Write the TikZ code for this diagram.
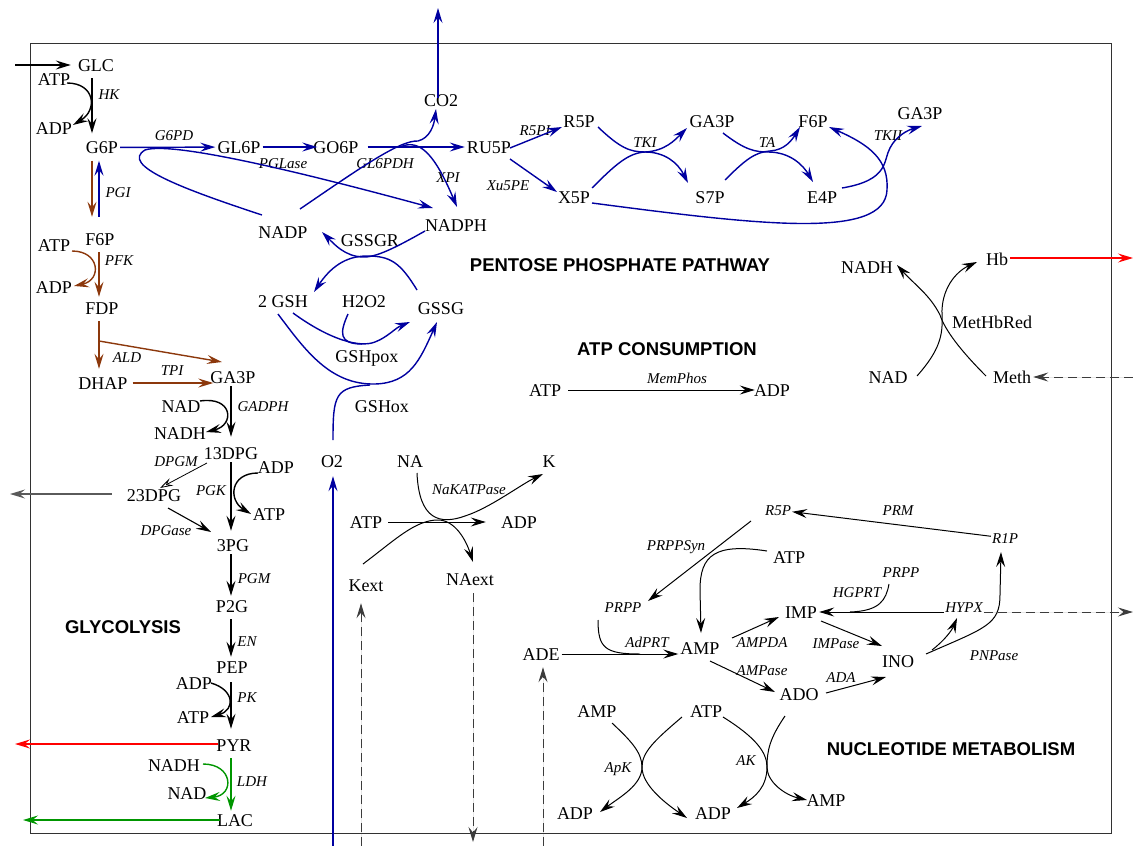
\documentclass[tikz,border=0pt]{standalone}
\usepackage{fontspec}
\setmainfont{Liberation Serif}
\setsansfont{Liberation Sans}
\usetikzlibrary{arrows.meta}
\definecolor{ppblue}{RGB}{0,0,160}
\definecolor{glbrown}{RGB}{140,56,12}
\definecolor{ldgreen}{RGB}{0,150,0}
\definecolor{exred}{RGB}{255,0,0}
\definecolor{boxgray}{RGB}{50,50,50}
\definecolor{exgray}{RGB}{90,90,90}
\definecolor{dashgray}{RGB}{60,60,60}
\begin{document}
\begin{tikzpicture}[x=1pt,y=-1pt,
  met/.style={font=\fontsize{18}{20}\selectfont, inner xsep=2pt, inner ysep=3pt, text height=12pt, text depth=0pt},
  enz/.style={font=\itshape\fontsize{15}{17}\selectfont, inner sep=1pt, text height=10pt, text depth=0pt},
  hdr/.style={font=\sffamily\bfseries\fontsize{18.5}{20}\selectfont, inner sep=0pt, text height=13pt, text depth=0pt},
  rxhead/.style={-{Stealth[length=15pt,width=9pt,inset=5.5pt]}},
  rxmain/.style={rxhead, line width=1.7pt},
  rxflow/.style={rxhead, line width=1.4pt},
  rxfine/.style={rxhead, line width=1pt},
  rxopen/.style={-{Stealth[open,length=13pt,width=8pt,inset=5pt]}, line width=0.8pt},
  rxdash/.style={rxhead, line width=1pt, dash pattern=on 9pt off 5pt, draw=dashgray, fill=dashgray}]
\useasboundingbox (0,0) rectangle (1133,846);
\draw[boxgray, line width=1pt] (30,43) rectangle (1111,833);

% ---------------- glycolysis ----------------
\node[met] (GLC) at (96,65) {GLC};
\node[met] (ATPhk) at (54,79) {ATP};
\node[met] (ADPhk) at (54,128) {ADP};
\node[enz] (HK) at (109,94) {HK};
\node[met] (G6P) at (102,147.5) {G6P};
\node[enz] (PGI) at (118,192) {PGI};
\node[met] (F6P) at (100,239) {F6P};
\node[met] (ATPpfk) at (54,245) {ATP};
\node[met] (ADPpfk) at (54,287) {ADP};
\node[enz] (PFK) at (119,260) {PFK};
\node[met] (FDP) at (102,308) {FDP};
\node[enz] (ALD) at (127,357) {ALD};
\node[met] (DHAP) at (103,383) {DHAP};
\node[enz] (TPI) at (172,370) {TPI};
\node[met] (GA3P) at (233,377) {GA3P};
\node[met] (NADg) at (181,406) {NAD};
\node[met] (NADHg) at (180,433) {NADH};
\node[enz] (GADPH) at (263,406) {GADPH};
\node[met] (DPGa) at (231,453) {13DPG};
\node[met] (ADPpgk) at (276,467) {ADP};
\node[met] (ATPpgk) at (269,514) {ATP};
\node[enz] (PGK) at (211,490) {PGK};
\node[enz] (DPGM) at (176,461) {DPGM};
\node[met] (DPGb) at (154,495) {23DPG};
\node[enz] (DPGase) at (166,530) {DPGase};
\node[met] (PGc) at (233,545) {3PG};
\node[enz] (PGM) at (254,578) {PGM};
\node[met] (P2G) at (232,606) {P2G};
\node[enz] (EN) at (247,641) {EN};
\node[met] (PEP) at (232,667) {PEP};
\node[met] (ADPpk) at (194,683) {ADP};
\node[met] (ATPpk) at (193,717) {ATP};
\node[enz] (PK) at (247,697) {PK};
\node[met] (PYR) at (234,745) {PYR};
\node[met] (NADHl) at (174,765) {NADH};
\node[met] (NADl) at (187,793) {NAD};
\node[enz] (LDH) at (252,781) {LDH};
\node[met] (LAC) at (235,820) {LAC};
\node[hdr] (glyT) at (123,627) {GLYCOLYSIS};

\coordinate (colA) at (92,0);
\coordinate (colB) at (99,0);
\coordinate (colC) at (231,0);
\coordinate (glcin) at (15,65);
\draw[rxflow] (glcin) -- ([xshift=-5pt]GLC.west);
\draw[rxmain, shorten <=4pt, shorten >=5pt] (GLC.south -| colA) -- (G6P.north -| colA);
\draw[rxflow] (67,83) .. controls (95,83) and (98,110) .. (73,125);
\draw[rxflow, glbrown, shorten <=4pt, shorten >=13pt] (G6P.south -| colA) -- (F6P.north -| colA);
\draw[rxflow, ppblue, shorten <=13pt, shorten >=4pt] (F6P.north -| colB) -- (G6P.south -| colB);
\draw[rxflow, glbrown, shorten <=4pt, shorten >=2pt] (F6P.south -| colB) -- (FDP.north -| colB);
\draw[rxflow, glbrown] (72,251) .. controls (100,251) and (102,280) .. (74,286);
\draw[rxflow, glbrown, shorten <=4pt, shorten >=5pt] (FDP.south -| colB) -- (DHAP.north -| colB);
\coordinate (aldfork) at (99,341);
\draw[rxflow, glbrown] (aldfork) -- (222,362);
\draw[rxflow, glbrown, shorten <=3pt, shorten >=-5pt] (DHAP.east) -- (GA3P.west |- DHAP.east);
\draw[rxmain, shorten >=7pt] (GA3P.south -| colC) -- (DPGa.north -| colC);
\draw[rxflow] (200,401) .. controls (233,396) and (235,425) .. (206,432);
\draw[rxmain, shorten >=5pt] (DPGa.south -| colC) -- (PGc.north -| colC);
\draw[rxflow] (258,473) .. controls (230,473) and (228,500) .. (251,514);
\draw[rxopen] (207,463) -- (160,488);
\coordinate (dpgout) at (10,494);
\draw[rxflow, exgray, shorten <=13pt] (DPGb.west |- dpgout) -- (dpgout);
\draw[rxflow, line width=1.1pt] (168,508) -- (211,532);
\draw[rxmain, shorten >=1pt] (PGc.south -| colC) -- (P2G.north -| colC);
\draw[rxmain, shorten <=4pt, shorten >=1pt] (P2G.south -| colC) -- (PEP.north -| colC);
\draw[rxmain, shorten <=6pt, shorten >=7pt] (PEP.south -| colC) -- (PYR.north -| colC);
\draw[rxflow] (211,683) .. controls (235,690) and (235,710) .. (211,717);
\coordinate (pyrout) at (15,744);
\draw[rxflow, exred, shorten <=-4pt] (PYR.west |- pyrout) -- (pyrout);
\draw[rxmain, ldgreen, shorten <=4pt] (PYR.south -| colC) -- (LAC.north -| colC);
\draw[rxflow, ldgreen] (203,764) .. controls (233,764) and (235,795) .. (205,798);
\coordinate (lacout) at (23,820);
\draw[rxflow, ldgreen, shorten <=-5pt] (LAC.west) -- (lacout);

% ---------------- pentose phosphate pathway ----------------
\node[met] (GL6P) at (239,147) {GL6P};
\node[enz] (G6PD) at (174,135) {G6PD};
\node[met] (GO6P) at (336,147) {GO6P};
\node[enz] (PGLase) at (283,163) {PGLase};
\node[met] (RU5P) at (489,147) {RU5P};
\node[enz] (GL6PDH) at (385,163) {GL6PDH};
\node[enz] (XPI) at (448,177) {XPI};
\node[met] (CO2) at (441,100) {CO2};
\node[met] (NADP) at (283,232) {NADP};
\node[met] (NADPH) at (456,225) {NADPH};
\node[met] (GSSGR) at (370,240) {GSSGR};
\node[met] (GSH) at (283,301) {2 GSH};
\node[met] (H2O2) at (364,301) {H2O2};
\node[met] (GSSG) at (441,308) {GSSG};
\node[met] (GSHpox) at (367,356) {GSHpox};
\node[met] (GSHox) at (382,406) {GSHox};
\node[met] (O2) at (332,461) {O2};
\node[enz] (R5PI) at (535,130) {R5PI};
\node[met] (R5P) at (579,121) {R5P};
\node[enz] (Xu5PE) at (508,185) {Xu5PE};
\node[met] (X5P) at (574,197) {X5P};
\node[met] (GA3Pp) at (712,121) {GA3P};
\node[met] (S7P) at (710,197) {S7P};
\node[enz] (TKI) at (645,142) {TKI};
\node[met] (F6Pp) at (813,121) {F6P};
\node[met] (E4P) at (822,197) {E4P};
\node[enz] (TA) at (767,142) {TA};
\node[met] (GA3Pq) at (920,113) {GA3P};
\node[enz] (TKII) at (888,135) {TKII};
\node[hdr] (ppT) at (620,265) {PENTOSE PHOSPHATE PATHWAY};

\draw[rxflow, ppblue] (G6P) -- (GL6P);
\draw[rxflow, ppblue, shorten >=-6pt] (GL6P) -- (GO6P);
\draw[rxflow, ppblue, shorten <=7pt] (GO6P) -- (RU5P);
\coordinate (co2out) at (438,8);
\draw[rxflow, ppblue, shorten <=-7pt] (CO2.north -| co2out) -- (co2out);
\draw[rxflow, ppblue] (262,215) .. controls (180,188) and (120,165) .. (145,150) .. controls (175,140) and (330,180) .. (433,208);
\draw[rxflow, ppblue] (300,209) .. controls (360,168) and (400,140) .. (418,141) .. controls (430,138) and (434,125) .. (436,109);
\draw[rxflow, ppblue] (400,147) .. controls (420,138) and (435,155) .. (457,207);
\draw[rxflow, ppblue] (425,231) .. controls (395,248) and (375,258) .. (362,257) .. controls (345,256) and (335,245) .. (322,232);
\draw[rxflow, ppblue] (417,290) .. controls (400,262) and (390,256) .. (367,256) .. controls (345,256) and (330,268) .. (314,292);
\draw[rxflow, ppblue] (293,313) .. controls (330,340) and (360,348) .. (375,342) .. controls (388,337) and (395,328) .. (410,322);
\draw[ppblue, line width=1.4pt] (348,314) .. controls (340,332) and (338,344) .. (362,344);
\draw[rxflow, ppblue] (278,314) .. controls (305,350) and (330,385) .. (375,384) .. controls (410,383) and (420,360) .. (437,322);
\draw[ppblue, line width=1.4pt] (333,440) .. controls (333,395) and (335,387) .. (370,385);
\coordinate (o2in) at (333,846);
\draw[rxflow, ppblue, shorten >=6pt] (o2in) -- (O2.south -| o2in);
\draw[rxflow, ppblue] (510,148) -- (562,127);
\draw[rxflow, ppblue] (510,159) -- (557,192);
\draw[rxflow, ppblue] (598,127) .. controls (620,148) and (630,152) .. (645,152) .. controls (665,152) and (678,163) .. (688,183);
\draw[rxflow, ppblue] (592,188) .. controls (615,165) and (628,153) .. (645,152) .. controls (665,151) and (675,140) .. (687,128);
\draw[rxflow, ppblue] (723,133) .. controls (745,150) and (755,152) .. (768,152) .. controls (790,152) and (803,165) .. (813,182);
\draw[rxflow, ppblue] (725,180) .. controls (745,160) and (755,152) .. (770,151) .. controls (785,150) and (792,140) .. (800,127);
\draw[rxflow, ppblue] (842,188) .. controls (890,180) and (883,160) .. (890,148) .. controls (896,136) and (908,130) .. (922,126);
\draw[rxflow, ppblue] (592,203) .. controls (760,225) and (885,240) .. (887,190) .. controls (889,160) and (870,145) .. (829,127);

% ---------------- ATP consumption ----------------
\node[hdr] (atpT) at (667,349) {ATP CONSUMPTION};
\node[met] (ATPm) at (545,390) {ATP};
\node[met] (ADPm) at (772,390) {ADP};
\node[enz] (MemPhos) at (677,378) {MemPhos};
\draw[rxfine, shorten <=5pt, shorten >=-3pt] (ATPm) -- (ADPm);

% ---------------- methaemoglobin reduction ----------------
\node[met] (Hb) at (997,259) {Hb};
\node[met] (NADHm) at (867,267) {NADH};
\node[met] (NADm) at (888,377) {NAD};
\node[met] (Meth) at (1012,377) {Meth};
\node[met] (MetHbRed) at (992,322) {MetHbRed};
\draw[rxfine] (917,376) .. controls (940,350) and (943,335) .. (942,315) .. controls (941,290) and (955,272) .. (977,262);
\draw[rxfine] (986,376) .. controls (960,350) and (945,330) .. (940,315) .. controls (930,295) and (915,285) .. (897,265);
\coordinate (hbout) at (1133,258);
\draw[rxflow, exred] (Hb.east |- hbout) -- (hbout);
\coordinate (methin) at (1133,377);
\draw[rxdash] (methin) -- (Meth.east);

% ---------------- Na/K pump ----------------
\node[met] (NA) at (410,461) {NA};
\node[met] (K) at (549,461) {K};
\node[met] (ATPn) at (366,522) {ATP};
\node[met] (ADPn) at (519,522) {ADP};
\node[enz] (NaK) at (469,489) {NaKATPase};
\node[met] (Kext) at (366,585) {Kext};
\node[met] (NAext) at (470,579) {NAext};
\draw[rxfine, shorten <=4pt, shorten >=13pt] (ATPn) -- (ADPn);
\draw[rxfine] (417,473) .. controls (419,520) and (440,525) .. (465,516) .. controls (490,508) and (520,485) .. (543,474);
\draw[rxfine] (363,564) .. controls (395,540) and (415,520) .. (438,520) .. controls (455,520) and (466,540) .. (473,562);
\coordinate (kextin) at (361,846);
\draw[rxdash, shorten >=9pt] (kextin) -- (Kext.south -| kextin);
\coordinate (naextout) at (473,842);
\draw[rxdash, shorten <=5pt] (NAext.south -| naextout) -- (naextout);
\coordinate (adein) at (543,846);

% ---------------- nucleotide metabolism ----------------
\node[enz] (R5Pn) at (778,510) {R5P};
\node[enz] (PRM) at (898,510) {PRM};
\node[enz] (R1P) at (1005,538) {R1P};
\node[enz] (PRPPSyn) at (676,545) {PRPPSyn};
\node[met] (ATPu) at (789,557) {ATP};
\node[enz] (PRPPa) at (623,607) {PRPP};
\node[enz] (PRPPb) at (901,572) {PRPP};
\node[enz] (HGPRT) at (857,592) {HGPRT};
\node[met] (IMP) at (801,612) {IMP};
\node[enz] (HYPX) at (964,607) {HYPX};
\node[met] (ADE) at (541,654) {ADE};
\node[enz] (AdPRT) at (647,642) {AdPRT};
\node[met] (AMP) at (700,648) {AMP};
\node[enz] (AMPDA) at (762,642) {AMPDA};
\node[enz] (IMPase) at (836,643) {IMPase};
\node[met] (INO) at (898,661) {INO};
\node[enz] (PNPase) at (994,655) {PNPase};
\node[enz] (AMPase) at (762,670) {AMPase};
\node[enz] (ADA) at (841,677) {ADA};
\node[met] (ADO) at (799,694) {ADO};
\node[met] (AMPk) at (597,711) {AMP};
\node[met] (ATPk) at (706,711) {ATP};
\node[enz] (ApK) at (618,767) {ApK};
\node[enz] (AK) at (746,760) {AK};
\node[met] (ADPk1) at (575,813) {ADP};
\node[met] (ADPk2) at (713,813) {ADP};
\node[met] (AMPk2) at (826,800) {AMP};
\node[hdr] (nucT) at (951,749) {NUCLEOTIDE METABOLISM};

\draw[rxdash, shorten >=4pt] (adein) -- (ADE.south -| adein);
\draw[rxfine] (R1P) -- (R5Pn);
\draw[rxfine] (751,521) -- (648,601);
\draw[rxfine] (767,551) .. controls (715,543) and (700,555) .. (700,590) -- (701,633);
\draw[rxfine] (ADE.east) -- (AMP.west |- ADE.east);
\draw[line width=1pt] (598,620) .. controls (598,648) and (605,654) .. (640,654);
\draw[rxfine] (732,638) -- (779,617);
\draw[rxfine] (HYPX.west |- IMP) -- (IMP);
\draw[line width=1pt] (889,584) .. controls (886,600) and (880,611) .. (850,612);
\draw[rxfine] (821,621) -- (882,646);
\draw[rxfine] (710,661) -- (775,692);
\draw[rxfine] (826,693) -- (886,677);
\draw[rxfine] (926,654) .. controls (985,628) and (1000,625) .. (1000,595) -- (1001,552);
\draw[rxfine] (932,650) .. controls (945,640) and (952,630) .. (957,618);
\coordinate (hypxout) at (1133,612);
\draw[rxdash] (HYPX.east |- hypxout) -- (hypxout);
\draw[rxfine] (612,723) .. controls (630,740) and (642,752) .. (642,767) .. controls (642,785) and (665,803) .. (687,818);
\draw[rxfine] (682,717) .. controls (655,740) and (642,752) .. (642,767) .. controls (642,785) and (620,797) .. (600,812);
\draw[rxfine] (723,717) .. controls (755,737) and (767,752) .. (767,767) .. controls (767,782) and (785,795) .. (807,800);
\draw[rxfine] (785,716) .. controls (770,738) and (767,750) .. (767,767) .. controls (767,787) and (755,797) .. (737,808);
\end{tikzpicture}
\end{document}
